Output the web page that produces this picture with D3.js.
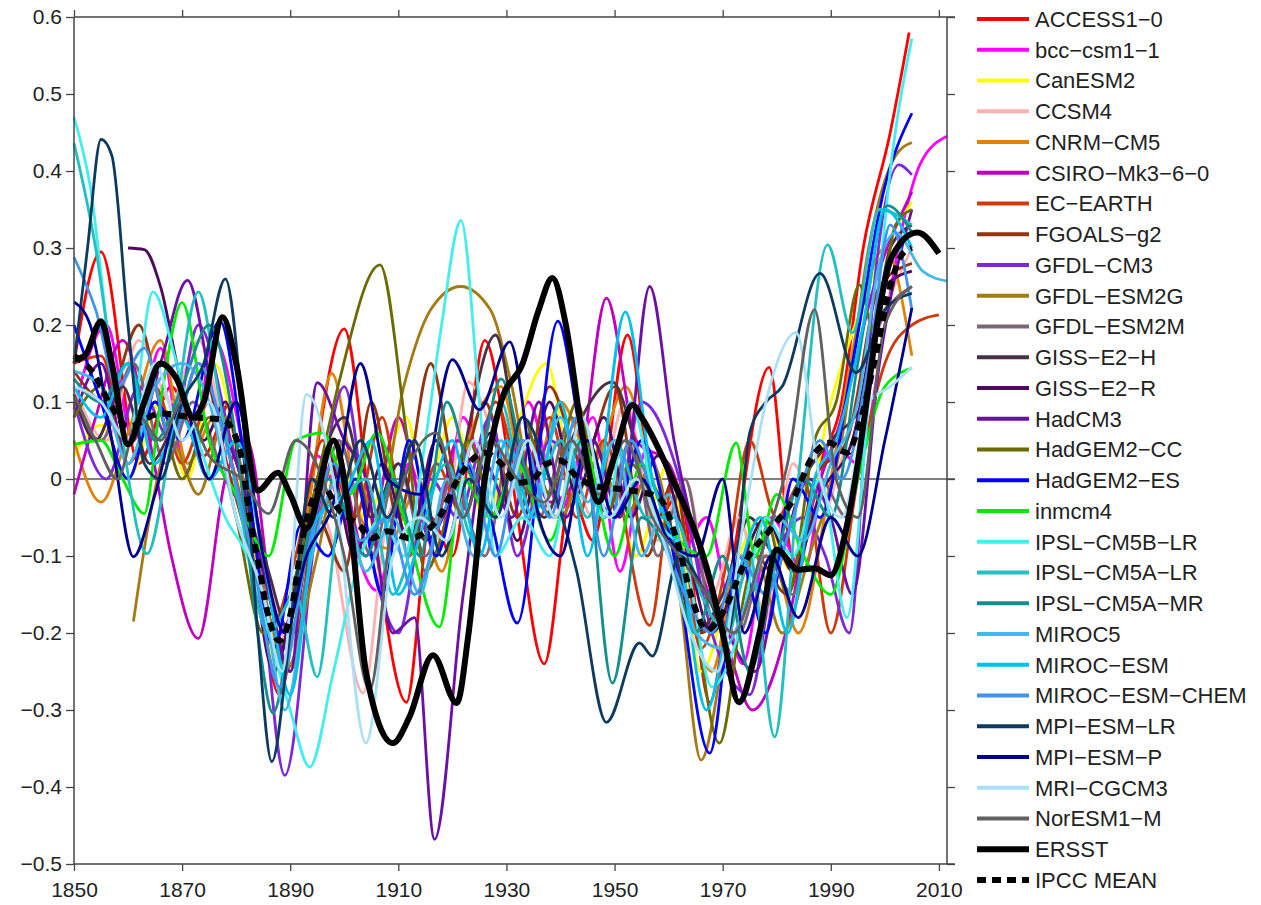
<!DOCTYPE html>
<html>
<head>
<meta charset="utf-8">
<script src="https://cdnjs.cloudflare.com/ajax/libs/d3/7.8.5/d3.min.js"></script>
<style>
  body { margin: 0; background: #fff; }
  svg { display: block; font-family: "Liberation Sans", Arial, sans-serif; }
</style>
</head>
<body>
<div id="container"></div>
<script>
// tick labels
const xTicks = [1850, 1870, 1890, 1910, 1930, 1950, 1970, 1990, 2010];
const yTicks = [-0.5, -0.4, -0.3, -0.2, -0.1, 0, 0.1, 0.2, 0.3, 0.4, 0.5, 0.6];

// series: [year, anomaly]
const access10 = [[1850,0.15],[1855,0.295],[1862,0.02],[1868,0.12],[1874,0.03],[1879,0.10],[1888,-0.28],[1893,-0.05],[1900,0.195],[1905,-0.05],[1911.5,-0.29],[1916,-0.05],[1920,-0.1],[1926,0.18],[1931,0.0],[1937,-0.24],[1942,-0.02],[1946,-0.08],[1952.4,0.187],[1958,-0.05],[1962,-0.02],[1967.6,-0.29],[1972,-0.1],[1978.6,0.145],[1983,-0.1],[1988,0.02],[1992,0.1],[1996,0.3],[2001,0.45],[2004.5,0.58]];
const bcc = [[1850,0.09],[1856,0.20],[1861,0.05],[1866,0.17],[1871,0.0],[1876,0.18],[1881,0.05],[1888,-0.27],[1895,0.03],[1900,-0.05],[1906,-0.145],[1912,0.02],[1917,-0.1],[1922,0.08],[1928,-0.05],[1934,0.1],[1940,-0.04],[1946,0.08],[1951,-0.12],[1956,0.04],[1962,-0.1],[1967,-0.05],[1973.7,-0.24],[1979,-0.05],[1985,-0.12],[1990,0.05],[1995,0.02],[2000,0.2],[2003,0.32],[2006.6,0.41],[2011.5,0.445]];
const canesm2 = [[1850,0.03],[1855,0.07],[1860,0.0],[1866,0.1],[1871,0.0],[1876,0.15],[1882,-0.05],[1888,-0.25],[1894,-0.05],[1899,0.02],[1904,-0.05],[1911.5,0.08],[1915,-0.02],[1920,0.08],[1926,-0.05],[1931,0.05],[1937.4,0.15],[1943,-0.02],[1948,0.05],[1954,-0.1],[1960,0.02],[1966,-0.25],[1972,-0.12],[1977,-0.05],[1983,-0.12],[1990,0.1],[1995,0.21],[2000,0.30],[2005,0.36]];
const ccsm4 = [[1850,0.12],[1856,0.05],[1862,0.18],[1868,0.10],[1873,0.18],[1879,0.02],[1885,-0.1],[1890,-0.22],[1896,-0.05],[1903.5,-0.278],[1908,-0.05],[1913,0.0],[1918,-0.08],[1923,0.126],[1928,0.05],[1933,-0.02],[1940,0.05],[1946,-0.05],[1952,0.1],[1958,-0.08],[1963,0.0],[1968,-0.15],[1973,-0.05],[1978,-0.18],[1983,0.02],[1988,-0.05],[1993,0.05],[1999,0.2],[2005,0.3]];
const cnrm = [[1850,0.05],[1855,-0.03],[1860,0.06],[1866,0.18],[1871,0.02],[1876,0.08],[1882,-0.02],[1888,-0.22],[1893,-0.05],[1897.7,0.137],[1903,-0.05],[1908,-0.09],[1913,-0.02],[1918,-0.12],[1923,0.05],[1929,0.12],[1934,-0.02],[1940,0.1],[1946,0.02],[1952,0.12],[1957,0.0],[1962,-0.12],[1968,-0.25],[1973,-0.1],[1979,-0.1],[1984,-0.2],[1990,0.0],[1995,0.2],[2000,0.3],[2005,0.16]];
const csiro = [[1850,-0.02],[1854,0.08],[1859,0.18],[1864,0.05],[1868,-0.1],[1873,-0.207],[1878,0.0],[1882,0.05],[1888,-0.2],[1893,-0.1],[1898,0.05],[1904,-0.1],[1910,0.08],[1916,-0.08],[1921,0.05],[1927,-0.05],[1933,0.05],[1938,-0.03],[1943,0.0],[1948.5,0.235],[1954,0.05],[1960,0.02],[1966,-0.12],[1971,-0.22],[1975.5,-0.3],[1981.8,-0.196],[1986,-0.05],[1992,0.08],[1998,0.25],[2005,0.373]];
const ecearth = [[1850,0.15],[1855,0.16],[1860,0.05],[1865,0.12],[1870,0.02],[1875,0.1],[1880,0.0],[1886,-0.2],[1891,-0.1],[1896,0.05],[1902,-0.05],[1907,0.08],[1912,-0.1],[1917,0.02],[1922,-0.05],[1928,0.1],[1933,0.0],[1938,0.08],[1943,-0.05],[1948,0.05],[1956.5,-0.19],[1961,0.0],[1966,-0.22],[1971,-0.1],[1975,0.05],[1980,-0.05],[1985,0.0],[1990,-0.2],[1995,0.0],[2000,0.15],[2005,0.2],[2010,0.213]];
const fgoals = [[1850,0.14],[1856,0.1],[1862,0.2],[1868,0.05],[1873,0.15],[1879,0.0],[1885,-0.15],[1890,-0.25],[1895,-0.05],[1900,-0.12],[1905,0.1],[1910,-0.05],[1916,0.15],[1921,0.0],[1926,0.1],[1932,-0.05],[1938,0.12],[1944,0.02],[1950,0.12],[1956,-0.1],[1961,0.0],[1966,-0.2],[1971,-0.15],[1976,-0.1],[1982,-0.15],[1987,0.0],[1993,0.05],[1999,0.25],[2005,0.28]];
const gfdlcm3 = [[1850,0.1],[1856,0.0],[1862,0.12],[1868,0.05],[1873,0.2],[1879,0.05],[1884,-0.1],[1889,-0.385],[1895,-0.05],[1900,0.12],[1905,-0.1],[1910,-0.2],[1916,0.0],[1921,-0.05],[1927,0.08],[1932,-0.1],[1938,0.05],[1944,0.0],[1950,-0.05],[1955,0.1],[1962,0.0],[1968,-0.2],[1975,-0.28],[1980,-0.1],[1985,-0.05],[1989,-0.1],[1993.4,-0.2],[1998,0.25],[2002.6,0.408],[2005,0.395]];
const gfdlesm2g = [[1861,-0.185],[1864,-0.05],[1868,0.05],[1873,-0.02],[1878,0.08],[1884,-0.1],[1889,-0.25],[1895,-0.1],[1900,0.05],[1906,-0.05],[1911,0.12],[1916,0.22],[1921.5,0.25],[1927,0.22],[1931,0.12],[1935,-0.02],[1940,-0.05],[1946,0.05],[1952,-0.05],[1957,0.02],[1962,-0.15],[1966,-0.365],[1971,-0.2],[1976,-0.1],[1981,-0.2],[1986,-0.1],[1992,0.05],[1997,0.3],[2002,0.42],[2005,0.437]];
const gfdlesm2m = [[1850,0.1],[1855,0.05],[1861,0.15],[1867,0.02],[1872,0.1],[1878,0.0],[1884,-0.08],[1889,-0.22],[1894,-0.1],[1899,0.05],[1905,-0.1],[1910,0.02],[1915,-0.1],[1920,0.0],[1926,-0.1],[1931,0.05],[1936,-0.05],[1942,0.08],[1948,-0.05],[1953,0.05],[1958,-0.1],[1963,0.0],[1968,-0.18],[1973,-0.2],[1978,-0.1],[1983,-0.15],[1988,0.0],[1993,-0.05],[1999,0.2],[2005,0.25]];
const gisse2h = [[1850,0.11],[1854,0.05],[1859,0.12],[1864,0.02],[1870,0.08],[1875,0.0],[1880,0.05],[1886,-0.12],[1890,-0.2],[1895,0.0],[1900,0.08],[1905,-0.05],[1910,0.02],[1915,-0.08],[1920,-0.02],[1928,0.187],[1932,0.05],[1937,-0.05],[1942,0.05],[1949.6,0.126],[1955,0.02],[1960,-0.05],[1965,-0.2],[1970,-0.15],[1975,-0.05],[1980,-0.1],[1985,0.0],[1990,0.05],[1996,0.1],[2001,0.3],[2005,0.33]];
const gisse2r = [[1860,0.30],[1863,0.298],[1866,0.25],[1870,0.12],[1874,0.05],[1878,0.1],[1882,-0.05],[1887,-0.25],[1892,-0.1],[1897,0.03],[1902,-0.1],[1907,0.02],[1912,-0.08],[1917,0.05],[1922,-0.05],[1927,0.06],[1932,-0.08],[1938,0.1],[1943,-0.02],[1948,0.08],[1953,-0.05],[1958,0.03],[1963,-0.08],[1968,-0.2],[1973,-0.12],[1978,-0.05],[1983,-0.12],[1988,-0.02],[1994,0.05],[2000,0.25],[2005,0.27]];
const hadcm3 = [[1850,0.08],[1855,0.15],[1860,0.02],[1866,0.15],[1871,0.258],[1876,0.1],[1881,0.0],[1886,-0.15],[1890,-0.25],[1895,0.125],[1900,0.05],[1904,0.0],[1909,-0.2],[1913,-0.18],[1916.7,-0.468],[1922,-0.15],[1926,0.02],[1931,-0.05],[1936,0.1],[1941,-0.05],[1946,0.05],[1951,-0.05],[1956.5,0.25],[1961,0.05],[1966,-0.1],[1971,-0.2],[1976,-0.25],[1981,-0.1],[1986,0.0],[1990,-0.05],[1994,-0.15],[1999,0.15],[2005,0.35]];
const hadgem2cc = [[1850,0.08],[1855,0.12],[1860,0.02],[1865,0.1],[1870,0.0],[1875,0.08],[1880,-0.05],[1885,-0.2],[1890,-0.15],[1895,0.0],[1899,0.125],[1906.6,0.278],[1911.5,0.06],[1915,-0.12],[1919,-0.05],[1923,0.05],[1928,-0.05],[1933,0.08],[1938,-0.02],[1943,0.1],[1948,-0.05],[1953,0.02],[1958,-0.05],[1963,-0.1],[1969.4,-0.343],[1974,-0.15],[1978,-0.05],[1982,-0.15],[1987,0.05],[1991,0.1],[1995.3,0.252],[1998,0.19],[2002,0.33],[2005,0.35]];
const hadgem2es = [[1850,0.2],[1855,0.1],[1860,0.0],[1865,0.1],[1870,0.05],[1877,0.205],[1882,0.0],[1887,-0.22],[1892,-0.06],[1897,-0.1],[1902,0.0],[1907,-0.15],[1912,0.05],[1917,-0.1],[1922,0.02],[1927,-0.05],[1932,-0.187],[1939.5,0.205],[1944,0.05],[1950,-0.05],[1955,0.05],[1961,-0.1],[1967.6,-0.356],[1973,-0.1],[1978,-0.2],[1983,0.0],[1988,-0.05],[1994,0.15],[2000,0.38],[2005,0.475]];
const inmcm4 = [[1850,0.045],[1855,0.05],[1859,0.0],[1863,-0.045],[1866,0.1],[1870,0.229],[1875,0.05],[1880,-0.02],[1886,-0.1],[1891,0.05],[1896,0.06],[1901,-0.02],[1906,0.06],[1911,-0.05],[1917.6,-0.192],[1922,0.0],[1927,-0.05],[1932,0.02],[1938,-0.08],[1944,0.05],[1950,-0.1],[1955,0.02],[1960,-0.06],[1967,-0.1],[1972.5,0.047],[1976,-0.1],[1980,-0.02],[1985,-0.1],[1990,-0.15],[1995,0.0],[2000,0.12],[2005,0.144]];
const ipslcm5blr = [[1850,0.47],[1853,0.38],[1857,0.15],[1860,0.05],[1864.6,0.243],[1869,0.15],[1873,0.05],[1878,-0.05],[1882,-0.1],[1886,-0.2],[1890,-0.3],[1893.6,-0.374],[1898,-0.25],[1903,-0.1],[1907,-0.05],[1911,-0.1],[1915,0.05],[1918,0.2],[1921.6,0.336],[1925,0.1],[1928,-0.1],[1933,-0.05],[1938,-0.1],[1943,0.05],[1948,-0.05],[1953,0.1],[1958,-0.05],[1963,-0.1],[1968,-0.27],[1973,-0.2],[1978,-0.05],[1983,-0.1],[1988,0.0],[1993,-0.18],[1997,0.1],[2001,0.4],[2005,0.572]];
const ipslcm5alr = [[1850,0.436],[1854,0.3],[1858,0.1],[1863.5,-0.097],[1868,0.05],[1873,0.243],[1877,0.1],[1881,-0.05],[1886,-0.2],[1891,-0.15],[1895,-0.257],[1899,-0.05],[1904,0.0],[1909,-0.15],[1914,-0.05],[1919,0.02],[1924,-0.08],[1929,0.1],[1934,-0.05],[1940,0.05],[1945,-0.05],[1950,0.05],[1956,-0.05],[1961,-0.05],[1966,-0.15],[1971,-0.2],[1975,-0.1],[1979.6,-0.335],[1984,0.0],[1989.4,0.304],[1994,0.19],[1999,0.35],[2005,0.33]];
const ipslcm5amr = [[1850,0.13],[1855,0.1],[1860,0.15],[1865,0.05],[1870,0.12],[1875,0.2],[1880,0.05],[1884,-0.2],[1886.8,-0.304],[1891,-0.15],[1897,0.0],[1904,-0.1],[1909,0.0],[1914,-0.1],[1919,0.1],[1924,0.0],[1929,0.13],[1934,0.0],[1939,-0.05],[1944,0.05],[1949.6,-0.265],[1955,-0.05],[1960,-0.1],[1965,-0.2],[1970,-0.1],[1975,-0.25],[1980,-0.1],[1985,0.0],[1990,-0.05],[1995,0.15],[2000.5,0.355],[2005,0.32]];
const miroc5 = [[1850,0.14],[1855,0.12],[1860,0.02],[1865,0.12],[1870,0.15],[1875,0.1],[1880,-0.05],[1885,-0.15],[1889,-0.3],[1894,-0.1],[1899,0.0],[1904,-0.12],[1909,-0.05],[1914,-0.15],[1919,0.0],[1924,-0.1],[1929,0.05],[1934,-0.05],[1940,0.08],[1945,-0.03],[1950,0.05],[1955,-0.1],[1960,-0.02],[1965,-0.2],[1970,-0.22],[1975,-0.15],[1980,-0.05],[1985,-0.08],[1990,0.02],[1995,0.1],[1999,0.28],[2002,0.32],[2007,0.27],[2011.5,0.257]];
const mirocesm = [[1850,0.12],[1855,0.08],[1860,0.15],[1865,0.02],[1870,0.08],[1875,0.0],[1880,0.05],[1885,-0.1],[1890,-0.28],[1895,-0.05],[1900,-0.02],[1905,0.05],[1910,-0.15],[1915,-0.05],[1920,0.05],[1925,-0.1],[1930,0.05],[1935,-0.05],[1940,0.1],[1945,-0.1],[1952,0.217],[1957,0.0],[1962,-0.1],[1967,-0.3],[1972,-0.15],[1977,-0.05],[1982,-0.2],[1987,0.0],[1991,0.05],[1996,0.2],[2000,0.35],[2005,0.3]];
const mirocesmchem = [[1850,0.288],[1854,0.22],[1858,0.12],[1863,0.17],[1868,0.05],[1873,0.15],[1878,0.05],[1883,-0.1],[1888,-0.27],[1893,-0.1],[1898,0.02],[1903,-0.08],[1908,-0.05],[1913,-0.15],[1918,-0.05],[1923,0.02],[1928,-0.1],[1933,0.05],[1938,-0.05],[1943,0.08],[1948,-0.1],[1953,0.05],[1958,-0.05],[1963,-0.15],[1968,-0.2],[1973,-0.1],[1978,-0.15],[1983,-0.05],[1988,0.05],[1992,0.0],[1997,0.15],[2001,0.33],[2005,0.22]];
const mpiesmlr = [[1850,0.15],[1852.5,0.3],[1855,0.441],[1857,0.42],[1860,0.2],[1863,0.02],[1866,0.0],[1870,0.1],[1874,0.15],[1878,0.26],[1881,0.1],[1884,-0.2],[1886.6,-0.367],[1890,-0.2],[1894,0.0],[1898,-0.05],[1903,0.05],[1908,-0.05],[1913,0.05],[1918,-0.1],[1923,0.0],[1928,-0.05],[1933,0.08],[1938,0.0],[1943,-0.12],[1948.5,-0.316],[1954.6,-0.213],[1957,-0.23],[1962,-0.1],[1967,-0.15],[1971,-0.2],[1975,0.06],[1978,0.1],[1981,0.12],[1988,0.267],[1994.7,0.138],[2000,0.22],[2005,0.241]];
const mpiesmp = [[1850,0.23],[1853,0.2],[1857,0.05],[1861,-0.101],[1865,-0.02],[1870,0.1],[1875,0.0],[1880,0.1],[1885,-0.1],[1889,-0.2],[1893,-0.1],[1898,-0.03],[1903,0.15],[1908,0.0],[1914,-0.02],[1920,0.155],[1925,0.09],[1930.6,0.178],[1936,-0.05],[1940,-0.1],[1945,0.05],[1950,-0.05],[1955,0.0],[1960,-0.08],[1965,-0.1],[1970,0.0],[1974,-0.2],[1979,-0.1],[1984,-0.18],[1990,-0.05],[1995,-0.1],[2000,0.05],[2005,0.222]];
const mricgcm3 = [[1850,0.12],[1855,0.1],[1860,0.05],[1865,0.15],[1870,0.05],[1875,0.1],[1880,-0.05],[1885,-0.15],[1888.5,-0.25],[1893,0.11],[1898,0.0],[1904,-0.343],[1909,-0.1],[1914,-0.05],[1919,-0.08],[1924,0.05],[1929,-0.05],[1934,0.05],[1939,-0.05],[1944,0.08],[1949,-0.05],[1954,0.0],[1959,-0.08],[1964,-0.2],[1969,-0.25],[1974,-0.05],[1978,0.1],[1983.6,0.19],[1988,0.0],[1992,-0.05],[1997,0.1],[2001,0.12],[2005,0.145]];
const noresm1m = [[1850,0.11],[1854,0.05],[1858,0.0],[1862,0.08],[1866,0.05],[1870,0.1],[1875,0.03],[1881,0.0],[1886,-0.045],[1891,0.05],[1896,0.0],[1900,-0.1],[1904.7,-0.274],[1909,-0.05],[1917,0.06],[1922,-0.05],[1927,0.05],[1932,0.0],[1937,-0.03],[1942,0.05],[1947,-0.02],[1952,0.05],[1957,-0.05],[1962,-0.1],[1967,-0.15],[1972,-0.2],[1977,-0.1],[1982,0.02],[1987,0.22],[1991,0.0],[1995,-0.05],[2000,0.2],[2005,0.25]];
const ersst = [[1850,0.155],[1852,0.16],[1855,0.205],[1857,0.15],[1860,0.045],[1863,0.1],[1866,0.15],[1869,0.13],[1872,0.08],[1874,0.1],[1877.5,0.21],[1880,0.15],[1884,-0.015],[1887.7,0.008],[1890,-0.02],[1893,-0.064],[1898,0.05],[1901,-0.05],[1904,-0.25],[1909,-0.343],[1912,-0.31],[1916.4,-0.229],[1920.8,-0.291],[1923,-0.2],[1926,0.0],[1929,0.1],[1933,0.15],[1936,0.22],[1938.5,0.261],[1941,0.2],[1944,0.06],[1947,-0.03],[1950,0.03],[1953.3,0.096],[1955,0.08],[1960.7,0.0],[1967,-0.114],[1970,-0.2],[1973,-0.29],[1976.8,-0.2],[1980,-0.092],[1984,-0.118],[1987,-0.116],[1990,-0.125],[1993,-0.06],[1995,0.02],[1997,0.12],[1999,0.22],[2001.4,0.29],[2006,0.32],[2010,0.293]];
const ipccMean = [[1850,0.16],[1853.5,0.138],[1856.7,0.097],[1860,0.068],[1866,0.085],[1872,0.08],[1877.5,0.077],[1880.7,0.038],[1882.5,-0.049],[1884.4,-0.12],[1885.7,-0.17],[1888,-0.21],[1890.5,-0.16],[1892,-0.088],[1896,-0.01],[1899,-0.04],[1903,-0.062],[1905,-0.077],[1908,-0.068],[1912,-0.077],[1917.6,-0.049],[1921,0.0],[1926,0.034],[1929,0.02],[1932,-0.005],[1935,0.0],[1937,0.018],[1940,0.024],[1943,0.003],[1947,-0.01],[1952,-0.014],[1958,-0.023],[1961.5,-0.079],[1964.4,-0.157],[1967,-0.196],[1970,-0.174],[1974.4,-0.105],[1979,-0.064],[1983,-0.027],[1986.6,0.029],[1989.7,0.047],[1993,0.034],[1995,0.064],[1998,0.15],[2001,0.25],[2003,0.29],[2005,0.3]];

const modelNames = ["ACCESS1\u22120","bcc\u2212csm1\u22121","CanESM2","CCSM4","CNRM\u2212CM5","CSIRO\u2212Mk3\u22126\u22120","EC\u2212EARTH","FGOALS\u2212g2","GFDL\u2212CM3","GFDL\u2212ESM2G","GFDL\u2212ESM2M","GISS\u2212E2\u2212H","GISS\u2212E2\u2212R","HadCM3","HadGEM2\u2212CC","HadGEM2\u2212ES","inmcm4","IPSL\u2212CM5B\u2212LR","IPSL\u2212CM5A\u2212LR","IPSL\u2212CM5A\u2212MR","MIROC5","MIROC\u2212ESM","MIROC\u2212ESM\u2212CHEM","MPI\u2212ESM\u2212LR","MPI\u2212ESM\u2212P","MRI\u2212CGCM3","NorESM1\u2212M"];
const modelData = [access10,bcc,canesm2,ccsm4,cnrm,csiro,ecearth,fgoals,gfdlcm3,gfdlesm2g,gfdlesm2m,gisse2h,gisse2r,hadcm3,hadgem2cc,hadgem2es,inmcm4,ipslcm5blr,ipslcm5alr,ipslcm5amr,miroc5,mirocesm,mirocesmchem,mpiesmlr,mpiesmp,mricgcm3,noresm1m];
const modelColors = ["#ff0000","#ff00ff","#ffff00","#ffb0b0","#df8209","#c000c0","#cf3a0c","#933510","#7f28d8","#a67a12","#806478","#4a3044","#4e0a5e","#6c10a4","#6b6b00","#0000ff","#00ec00","#44eeee","#22c0c0","#13908e","#44b8e8","#00c0ee","#4194ee","#0c3a60","#00008e","#aadff6","#616161"];

document.addEventListener("DOMContentLoaded", () => {
  const w = 1261, h = 905;
  const left = 74, right = 947, top = 17, bottom = 864;

  const svg = d3.select("#container").append("svg")
    .attr("width", w).attr("height", h);

  const x = d3.scaleLinear().domain([1850, 2011.5]).range([left, right]);
  const y = d3.scaleLinear().domain([-0.5, 0.6]).range([bottom, top]);

  const line = d3.line()
    .x(d => x(d[0]))
    .y(d => y(d[1]))
    .curve(d3.curveMonotoneX);

  // zero line, runs a little past the right axis like the frame
  svg.append("line")
     .attr("x1", left).attr("x2", right + 8)
     .attr("y1", y(0)).attr("y2", y(0))
     .attr("stroke", "#555").attr("stroke-width", 1.5);

  // model curves
  modelData.forEach((d, i) => {
    svg.append("path")
       .attr("d", line(d))
       .attr("fill", "none")
       .attr("stroke", modelColors[i])
       .attr("stroke-width", 2.8)
       .attr("stroke-linejoin", "round");
  });

  svg.append("path")
     .attr("d", line(ersst))
     .attr("fill", "none")
     .attr("stroke", "#000")
     .attr("stroke-width", 6)
     .attr("stroke-linejoin", "round");

  svg.append("path")
     .attr("d", line(ipccMean))
     .attr("fill", "none")
     .attr("stroke", "#000")
     .attr("stroke-width", 6)
     .attr("stroke-dasharray", "9,7");

  // axes
  const fmt = d => d === 0 ? "0" : d3.format(".1f")(d);

  const xAxis = svg.append("g")
     .attr("transform", "translate(0," + bottom + ")")
     .call(d3.axisBottom(x).tickValues(xTicks).tickFormat(d3.format("d")).tickSize(7).tickSizeOuter(0));
  xAxis.selectAll("text").attr("y", 18).attr("font-size", 21);

  svg.append("g")
     .attr("transform", "translate(0," + top + ")")
     .call(d3.axisTop(x).tickValues(xTicks).tickFormat("").tickSize(7).tickSizeOuter(0));

  const yAxis = svg.append("g")
     .attr("transform", "translate(" + left + ",0)")
     .call(d3.axisLeft(y).tickValues(yTicks).tickFormat(fmt).tickSize(8).tickPadding(4).tickSizeOuter(0));
  yAxis.selectAll("text").attr("font-size", 21);

  svg.append("g")
     .attr("transform", "translate(" + right + ",0)")
     .call(d3.axisRight(y).tickValues(yTicks).tickFormat("").tickSize(8).tickSizeOuter(0));

  svg.selectAll(".domain").remove();
  svg.selectAll(".tick line").attr("stroke", "#444").attr("stroke-width", 1.3);
  svg.selectAll(".tick text").attr("fill", "#222").attr("font-family", "Liberation Sans, Arial, sans-serif");

  [[left, left, top, bottom], [right, right, top, bottom], [left, right + 8, bottom, bottom], [left, right + 8, top, top]]
    .forEach(a => {
      svg.append("line")
         .attr("x1", a[0]).attr("x2", a[1]).attr("y1", a[2]).attr("y2", a[3])
         .attr("stroke", "#444").attr("stroke-width", 1.5);
    });

  // legend
  const legendNames = modelNames.concat(["ERSST", "IPCC MEAN"]);
  const legend = svg.append("g");
  legendNames.forEach((name, i) => {
    const ly = 19 + i * 30.75;
    const isModel = i < modelNames.length;
    legend.append("line")
       .attr("x1", 977).attr("x2", 1029)
       .attr("y1", ly).attr("y2", ly)
       .attr("stroke", isModel ? modelColors[i] : "#000")
       .attr("stroke-width", isModel ? 4 : 6)
       .attr("stroke-dasharray", name === "IPCC MEAN" ? "9,6" : null);
    legend.append("text")
       .attr("x", 1035).attr("y", ly)
       .attr("dy", "0.36em")
       .attr("font-size", 22)
       .attr("fill", "#222")
       .text(name);
  });
});
</script>
</body>
</html>
